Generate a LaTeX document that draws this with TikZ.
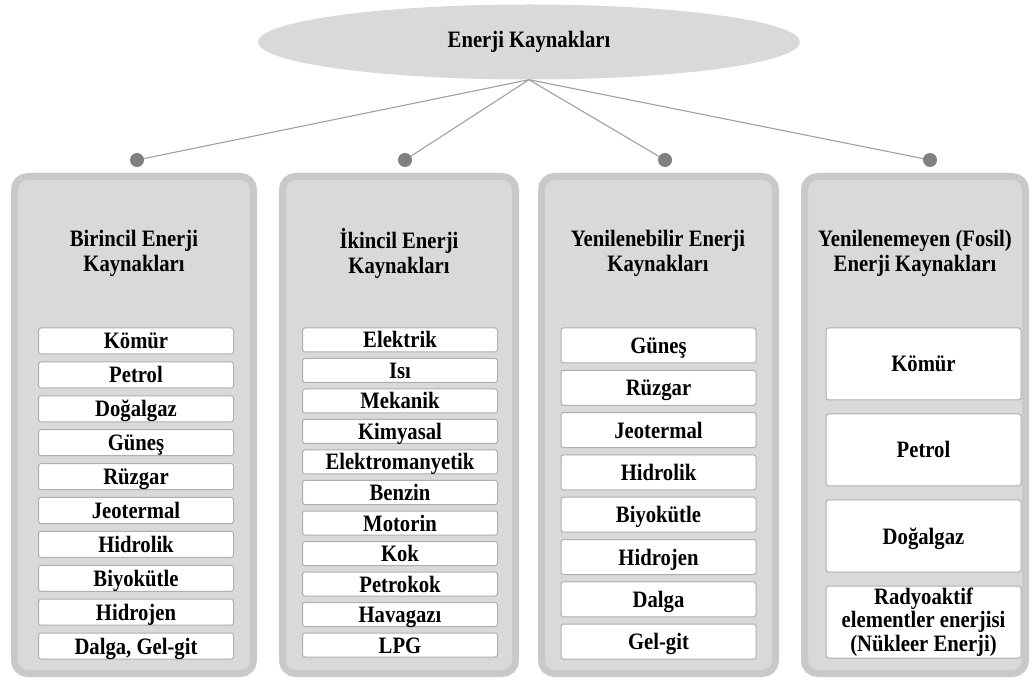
\documentclass[tikz,border=0pt]{standalone}
\usepackage{fontspec}
\setmainfont{Liberation Serif}[FakeStretch=0.88]
\usetikzlibrary{positioning,shapes.geometric}
\definecolor{panelgray}{RGB}{217,217,217}
\definecolor{rimgray}{RGB}{201,201,201}
\definecolor{jointgray}{RGB}{128,128,128}
\definecolor{linkgray}{RGB}{160,160,160}
\definecolor{itemrim}{RGB}{175,175,175}

\begin{document}
\begin{tikzpicture}[
  x=1pt, y=-1pt,
  font=\bfseries\fontsize{23.5}{26}\selectfont,
  topnode/.style={ellipse, fill=panelgray, minimum width=542pt, minimum height=75pt},
  joint/.style={circle, fill=jointgray, minimum size=14pt, inner sep=0pt},
  panel/.style={draw=rimgray, line width=7pt, fill=panelgray, rounded corners=13pt, minimum height=497pt},
  head/.style={align=center, font=\bfseries\fontsize{23.5}{25}\selectfont},
  item/.style={draw=itemrim, line width=1pt, fill=white, rounded corners=2.5pt, minimum width=195pt, inner sep=0pt, outer sep=0pt, align=center},
  oneline/.style={text height=17pt, text depth=1pt},
  link/.style={linkgray, line width=1.1pt}
]
\useasboundingbox (0,0) rectangle (1034,684);

\node[topnode] (top) at (529,42) {Enerji Kaynakları};

\node[panel, minimum width=239pt] (p1) at (134,425) {};
\node[panel, minimum width=233pt] (p2) at (399,425) {};
\node[panel, minimum width=234pt] (p3) at (658.5,425) {};
\node[panel, minimum width=221pt] (p4) at (915,425) {};

\draw[link] (top.south) -- (137,160) coordinate (c1);
\draw[link] (top.south) -- (405,160) coordinate (c2);
\draw[link] (top.south) -- (665,160) coordinate (c3);
\draw[link] (top.south) -- (930,160) coordinate (c4);
\node[joint] (j1) at (c1) {};
\node[joint] (j2) at (c2) {};
\node[joint] (j3) at (c3) {};
\node[joint] (j4) at (c4) {};

\node[head] (h1) at (134,253) {Birincil Enerji\\Kaynakları};
\node[head] (h2) at (399,253) {İkincil Enerji\\Kaynakları};
\node[head] (h3) at (658,253) {Yenilenebilir Enerji\\Kaynakları};
\node[head] (h4) at (915,253) {Yenilenemeyen (Fosil)\\Enerji Kaynakları};

% birincil
\node[item, oneline, minimum height=26pt] (b1) at (136,341) {Kömür};
\node[item, oneline, minimum height=26pt, below=7.9pt of b1] (b2) {Petrol};
\node[item, oneline, minimum height=26pt, below=7.9pt of b2] (b3) {Doğalgaz};
\node[item, oneline, minimum height=26pt, below=7.9pt of b3] (b4) {Güneş};
\node[item, oneline, minimum height=26pt, below=7.9pt of b4] (b5) {Rüzgar};
\node[item, oneline, minimum height=26pt, below=7.9pt of b5] (b6) {Jeotermal};
\node[item, oneline, minimum height=26pt, below=7.9pt of b6] (b7) {Hidrolik};
\node[item, oneline, minimum height=26pt, below=7.9pt of b7] (b8) {Biyokütle};
\node[item, oneline, minimum height=26pt, below=7.9pt of b8] (b9) {Hidrojen};
\node[item, oneline, minimum height=26pt, below=7.9pt of b9] (b10) {Dalga, Gel-git};

% ikincil
\node[item, oneline, minimum height=24pt] (i1) at (400,340) {Elektrik};
\node[item, oneline, minimum height=24pt, below=6.5pt of i1] (i2) {Isı};
\node[item, oneline, minimum height=24pt, below=6.5pt of i2] (i3) {Mekanik};
\node[item, oneline, minimum height=24pt, below=6.5pt of i3] (i4) {Kimyasal};
\node[item, oneline, minimum height=24pt, below=6.5pt of i4] (i5) {Elektromanyetik};
\node[item, oneline, minimum height=24pt, below=6.5pt of i5] (i6) {Benzin};
\node[item, oneline, minimum height=24pt, below=6.5pt of i6] (i7) {Motorin};
\node[item, oneline, minimum height=24pt, below=6.5pt of i7] (i8) {Kok};
\node[item, oneline, minimum height=24pt, below=6.5pt of i8] (i9) {Petrokok};
\node[item, oneline, minimum height=24pt, below=6.5pt of i9] (i10) {Havagazı};
\node[item, oneline, minimum height=24pt, below=6.5pt of i10] (i11) {LPG};

% yenilenebilir
\node[item, oneline, minimum height=35pt] (y1) at (658.5,345.5) {Güneş};
\node[item, oneline, minimum height=35pt, below=7.3pt of y1] (y2) {Rüzgar};
\node[item, oneline, minimum height=35pt, below=7.3pt of y2] (y3) {Jeotermal};
\node[item, oneline, minimum height=35pt, below=7.3pt of y3] (y4) {Hidrolik};
\node[item, oneline, minimum height=35pt, below=7.3pt of y4] (y5) {Biyokütle};
\node[item, oneline, minimum height=35pt, below=7.3pt of y5] (y6) {Hidrojen};
\node[item, oneline, minimum height=35pt, below=7.3pt of y6] (y7) {Dalga};
\node[item, oneline, minimum height=35pt, below=7.3pt of y7] (y8) {Gel-git};

% fosil
\node[item, oneline, minimum height=72pt] (f1) at (923.5,364) {Kömür};
\node[item, oneline, minimum height=72pt, below=14pt of f1] (f2) {Petrol};
\node[item, oneline, minimum height=72pt, below=14pt of f2] (f3) {Doğalgaz};
\node[item, minimum height=72pt, below=14pt of f3, font=\bfseries\fontsize{23.5}{23.5}\selectfont] (f4) {Radyoaktif\\elementler enerjisi\\(Nükleer Enerji)};
\end{tikzpicture}
\end{document}
